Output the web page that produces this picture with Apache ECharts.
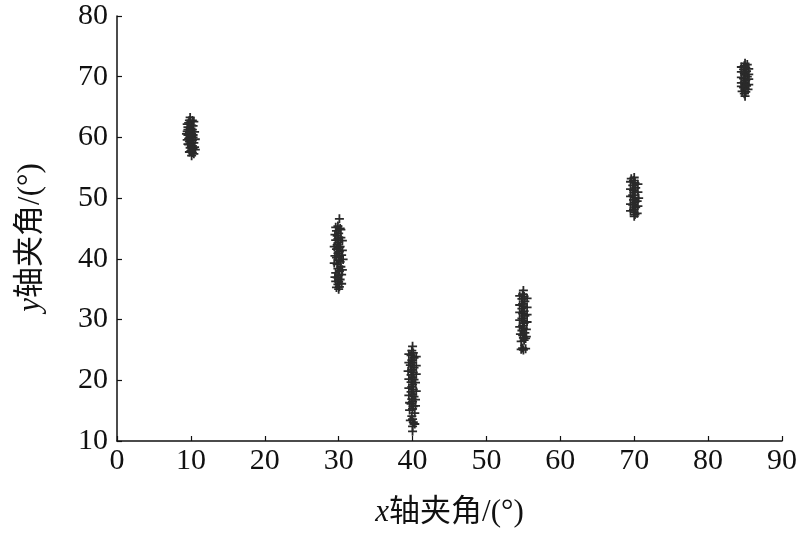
<!DOCTYPE html>
<html><head><meta charset="utf-8">
<script src="https://cdn.jsdelivr.net/npm/echarts@6/dist/echarts.min.js"></script>
<style>html,body{margin:0;padding:0;background:#fff}#c{width:800px;height:533px}</style>
</head><body><div id="c"></div>
<script>
const xTicks = [0,10,20,30,40,50,60,70,80,90];
const yTicks = [10,20,30,40,50,60,70,80];
const ptsA = [[9.9,63.3],[9.7,62.4],[10.1,62.0],[9.6,61.7],[9.9,61.5],[10.2,61.3],[9.5,61.0],[9.8,60.8],[10.1,60.6],[9.6,60.4],[10.0,60.2],[10.3,60.0],[9.7,59.8],[9.9,59.6],[10.2,59.5],[9.8,59.3],[10.4,59.1],[10.0,58.9],[9.7,58.8],[10.2,58.6],[10.5,58.4],[9.9,58.3],[10.3,58.1],[10.1,57.9],[10.2,57.5],[10.1,57.0],[9.8,59.9],[10.0,61.1],
  [10.4,62.6],[9.5,62.2],[10.3,61.9],[9.4,60.6],[10.5,60.9],[9.5,59.6],[10.6,59.7],[9.6,58.9],[10.6,58.0],[9.8,57.6],[10.4,57.3],[10.0,57.8],[9.9,60.3],[10.3,60.4],[9.6,61.3],[10.2,62.8],[9.8,62.8]];
const ptsB = [[30.1,46.6],[29.9,45.4],[30.2,45.0],[29.7,44.6],[30.0,44.2],[29.8,43.8],[30.3,43.5],[29.6,43.1],[30.0,42.7],[29.8,42.3],[30.2,42.0],[29.7,41.6],[30.1,41.2],[29.9,40.9],[30.4,40.6],[29.7,40.2],[30.0,39.8],[30.2,39.5],[29.8,39.1],[30.3,38.7],[29.9,38.4],[30.1,38.0],[29.6,37.7],[30.0,37.3],[29.8,36.9],[30.2,36.6],[30.0,36.2],[29.9,35.8],[30.1,35.4],[30.0,35.0],[30.1,41.9],[29.9,43.3],
  [29.5,44.0],[30.5,43.0],[29.4,42.0],[30.5,41.4],[29.5,40.5],[30.6,39.9],[29.4,39.3],[30.5,38.2],[29.5,37.0],[30.4,37.4],[29.6,36.3],[30.4,35.9],[29.7,35.3],[30.3,44.8],[29.6,45.2],[30.0,40.4],[29.9,41.6]];
const ptsC = [[40.0,25.6],[39.9,24.9],[40.1,24.5],[39.8,24.1],[40.2,23.7],[39.9,23.3],[40.0,22.9],[39.7,22.5],[40.2,22.1],[39.9,21.7],[40.1,21.3],[39.8,20.9],[40.0,20.5],[40.2,20.1],[39.8,19.7],[40.0,19.3],[39.9,18.9],[40.1,18.5],[39.8,18.1],[40.0,17.7],[40.2,17.3],[39.9,16.9],[40.0,16.5],[39.8,16.1],[40.1,15.7],[40.0,15.3],[39.9,14.1],[40.0,13.6],[40.1,13.1],[40.0,12.4],[40.0,11.6],
  [39.5,24.3],[40.5,23.9],[39.5,22.9],[40.5,22.4],[39.4,21.5],[40.5,21.0],[39.5,20.2],[40.4,19.6],[39.5,18.7],[40.5,18.2],[39.5,17.5],[40.4,16.8],[39.6,16.3],[40.4,15.8],[39.6,15.1],[40.3,14.6],[39.7,13.4],[40.3,12.8]];
const ptsD = [[55.0,34.8],[54.9,34.2],[55.1,33.8],[54.8,33.4],[55.2,33.0],[54.9,32.6],[55.0,32.2],[54.8,31.8],[55.1,31.4],[54.9,31.0],[55.2,30.6],[54.8,30.2],[55.0,29.8],[55.1,29.4],[54.9,29.0],[55.0,28.6],[54.8,28.2],[55.2,27.8],[54.9,27.4],[55.0,27.0],[55.1,26.6],[54.9,25.3],[55.0,25.0],
  [54.5,33.9],[55.5,33.5],[54.5,32.4],[55.5,32.0],[54.5,31.2],[55.5,30.8],[54.5,29.9],[55.5,29.6],[54.5,28.8],[55.4,28.4],[54.6,27.6],[55.4,27.2],[55.3,26.9],[54.7,26.4],[55.3,25.2],[54.7,25.1]];
const ptsE = [[70.0,53.4],[69.9,52.9],[70.1,52.5],[69.8,52.1],[70.2,51.7],[69.9,51.3],[70.0,50.9],[69.8,50.5],[70.1,50.1],[70.6,50.0],[69.9,49.7],[70.0,49.3],[69.8,48.9],[70.2,48.5],[69.9,48.1],[70.0,47.7],[70.1,47.3],[70.0,47.0],
  [69.5,52.7],[70.5,52.3],[69.5,51.5],[70.5,51.0],[69.5,50.3],[70.4,49.5],[69.5,49.0],[70.5,48.7],[69.5,47.9],[70.4,47.5],[69.6,53.2]];
const ptsF = [[85.0,72.2],[84.9,71.8],[85.1,71.5],[84.8,71.2],[85.2,70.9],[84.9,70.6],[85.0,70.3],[85.3,70.0],[84.8,69.7],[85.1,69.4],[84.9,69.1],[85.0,68.8],[85.2,68.5],[84.8,68.2],[85.0,67.9],[85.1,67.5],[84.9,67.2],[85.0,66.8],
  [84.5,71.6],[85.5,71.3],[84.5,70.8],[85.5,70.4],[84.5,69.9],[85.5,69.6],[84.5,69.0],[85.5,68.7],[84.5,68.4],[85.4,67.9],[84.6,67.6],[85.3,72.0]];

const serif = 'Liberation Serif, DejaVu Serif, serif';
const cjk = 'Liberation Serif, Noto Sans CJK SC, serif';
const chart = echarts.init(document.getElementById('c'), null, {renderer:'canvas'});
const plus = 'path://M4,0L6,0L6,4L10,4L10,6L6,6L6,10L4,10L4,6L0,6L0,4L4,4Z';
function mk(pts){return {type:'scatter',data:pts,symbol:plus,symbolSize:9,itemStyle:{color:'#2a2a2a',opacity:1},silent:true,animation:false};}
const nameStyle = {fontSize:31,color:'#111',fontFamily:cjk,rich:{i:{fontStyle:'italic',fontSize:31,fontFamily:serif,color:'#111'}}};
chart.setOption({
  animation:false,
  grid:{left:117,right:18,top:16,bottom:92},
  xAxis:{type:'value',min:xTicks[0],max:xTicks[xTicks.length-1],interval:10,
    name:'{i|x}轴夹角/(°)',nameLocation:'middle',nameGap:56,nameTextStyle:nameStyle,
    axisLine:{lineStyle:{color:'#111',width:1.5}},
    axisTick:{inside:true,length:5,lineStyle:{color:'#111',width:1.2}},
    axisLabel:{fontSize:30,color:'#111',fontFamily:serif,margin:5},
    splitLine:{show:false}},
  yAxis:{type:'value',min:yTicks[0],max:yTicks[yTicks.length-1],interval:10,
    name:'{i|y}轴夹角/(°)',nameLocation:'middle',nameGap:71,nameRotate:90,
    nameTextStyle:Object.assign({},nameStyle,{padding:[0,18,0,0]}),
    axisLine:{show:true,lineStyle:{color:'#111',width:1.5}},
    axisTick:{show:true,inside:true,length:5,lineStyle:{color:'#111',width:1.2}},
    axisLabel:{fontSize:30,color:'#111',fontFamily:serif,margin:9},
    splitLine:{show:false}},
  series:[mk(ptsA),mk(ptsB),mk(ptsC),mk(ptsD),mk(ptsE),mk(ptsF)]
});
</script></body></html>
